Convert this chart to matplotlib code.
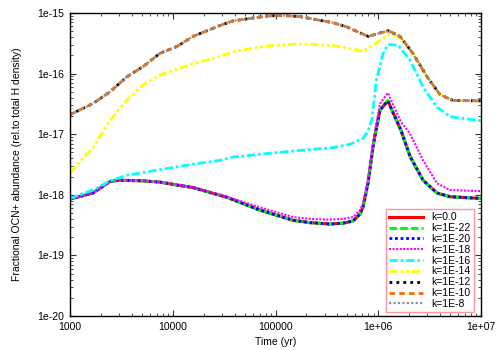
import matplotlib
matplotlib.use('Agg')
import matplotlib.pyplot as plt
from matplotlib.ticker import LogLocator, FixedLocator, NullFormatter

plt.rcParams['font.family'] = ['Liberation Sans', 'DejaVu Sans']

# time grids (yr)
t_low = [1000, 1670, 2450, 3070, 5130, 7510, 11000, 15700, 33700, 70600,
         148000, 217000, 339000, 454000, 568000, 664000, 710000, 795000, 889000, 951000,
         1.04e6, 1.24e6, 1.66e6, 2.04e6, 2.73e6, 3.73e6, 4.99e6, 1e7]
t_cyan = [1000, 1670, 2450, 3590, 7510, 15700, 28800, 38600, 82700, 173000,
          363000, 531000, 664000, 710000, 795000, 870000, 960000, 1.11e6, 1.24e6, 1.56e6,
          2.04e6, 2.73e6, 3.73e6, 4.99e6, 1e7]
t_yel = [1000, 1690, 2450, 3560, 5130, 7510, 15700, 28800, 38600, 82700,
         173000, 363000, 664000, 710000, 832000, 1.30e6, 1.63e6, 2.18e6, 2.98e6, 3.99e6,
         5.34e6, 1e7]
t_top = [1000, 1670, 2450, 3590, 5130, 7510, 11000, 15700, 28800, 38600,
         82700, 118000, 173000, 363000, 493000, 664000, 800000, 1.25e6, 1.63e6, 2.18e6,
         2.98e6, 3.99e6, 5.34e6, 1e7]

# fractional abundances
ab_k0 = [8.5e-19, 1.07e-18, 1.66e-18, 1.74e-18, 1.70e-18, 1.62e-18, 1.45e-18, 1.32e-18, 9.1e-19, 5.6e-19,
         3.8e-19, 3.47e-19, 3.3e-19, 3.4e-19, 3.7e-19, 4.8e-19, 6.3e-19, 1.55e-18, 6.2e-18, 1.17e-17,
         2.5e-17, 3.55e-17, 1.17e-17, 4.3e-18, 1.74e-18, 1.07e-18, 9.3e-19, 8.7e-19]
ab_k22 = list(ab_k0)
ab_k20 = list(ab_k0)
ab_k18 = [8.5e-19, 1.07e-18, 1.66e-18, 1.74e-18, 1.70e-18, 1.62e-18, 1.45e-18, 1.33e-18, 9.3e-19, 6.2e-19,
          4.3e-19, 4.0e-19, 3.9e-19, 4.0e-19, 4.3e-19, 5.6e-19, 7.1e-19, 1.78e-18, 7.1e-18, 1.4e-17,
          3.2e-17, 4.8e-17, 1.6e-17, 1.02e-17, 3.7e-18, 1.55e-18, 1.2e-18, 1.15e-18]
ab_k16 = [8.7e-19, 1.2e-18, 1.7e-18, 2.1e-18, 2.6e-18, 3.2e-18, 3.7e-18, 4.2e-18, 4.8e-18, 5.4e-18,
          6.0e-18, 6.8e-18, 8.1e-18, 8.5e-18, 1.12e-17, 1.78e-17, 7.9e-17, 2.1e-16, 3.0e-16, 2.95e-16,
          1.66e-16, 6.0e-17, 2.8e-17, 1.95e-17, 1.66e-17]
ab_k14 = [2.3e-18, 6.2e-18, 1.7e-17, 3.6e-17, 6.5e-17, 9.5e-17, 1.45e-16, 1.9e-16, 2.3e-16, 2.85e-16,
          3.1e-16, 2.9e-16, 2.4e-16, 2.3e-16, 2.75e-16, 4.5e-16, 4.0e-16, 2.1e-16, 8.8e-17, 4.5e-17,
          3.6e-17, 3.55e-17]
ab_k12 = [2.1e-17, 3.2e-17, 5.0e-17, 8.9e-17, 1.3e-16, 2.16e-16, 2.8e-16, 4.1e-16, 6.2e-16, 7.4e-16,
          8.9e-16, 9.1e-16, 8.7e-16, 6.9e-16, 5.9e-16, 4.7e-16, 4.1e-16, 5.1e-16, 4.1e-16, 2.14e-16,
          8.9e-17, 4.5e-17, 3.6e-17, 3.55e-17]
ab_k10 = list(ab_k12)
ab_k8 = list(ab_k12)

fig = plt.figure(figsize=(5, 3.5), dpi=100)
ax = fig.add_axes([0.14, 0.097, 0.822, 0.866])

ax.plot(t_low, ab_k0, color='#ff0000', lw=2.2, ls='-', label='k=0.0')
ax.plot(t_low, ab_k22, color='#00ff00', lw=2.2, ls=(0, (2.5, 1)), label='k=1E-22')
ax.plot(t_low, ab_k20, color='#0000ff', lw=2.0, ls=(0, (1, 1)), label='k=1E-20')
ax.plot(t_low, ab_k18, color='#ff00ff', lw=1.5, ls=(0, (1, 0.7)), label='k=1E-18')
ax.plot(t_cyan, ab_k16, color='#00ffff', lw=2.0, ls=(0, (3, 1, 1, 1)), label='k=1E-16')
ax.plot(t_yel, ab_k14, color='#ffff00', lw=2.0, ls=(0, (3, 1, 1, 1, 1, 1)), label='k=1E-14')
ax.plot(t_top, ab_k12, color='#000000', lw=2.0, ls=(0, (1, 1.5)), label='k=1E-12')
ax.plot(t_top, ab_k10, color='#ff6a00', lw=2.0, ls=(0, (2, 1.5)), label='k=1E-10')
ax.plot(t_top, ab_k8, color='#909090', lw=1.6, ls=(0, (1, 1)), label='k=1E-8')

ax.set_xscale('log')
ax.set_yscale('log')
ax.set_xlim(1000, 1e7)
ax.set_ylim(1e-20, 1e-15)

ax.xaxis.set_major_locator(FixedLocator([1e3, 1e4, 1e5, 1e6, 1e7]))
ax.set_xticklabels(['1000', '10000', '100000', '1e+06', '1e+07'])
ax.xaxis.set_minor_locator(LogLocator(base=10, subs=range(2, 10)))
ax.xaxis.set_minor_formatter(NullFormatter())
ax.yaxis.set_major_locator(FixedLocator([1e-20, 1e-19, 1e-18, 1e-17, 1e-16, 1e-15]))
ax.set_yticklabels(['1e-20', '1e-19', '1e-18', '1e-17', '1e-16', '1e-15'])
ax.yaxis.set_minor_locator(LogLocator(base=10, subs=range(2, 10)))
ax.yaxis.set_minor_formatter(NullFormatter())

ax.tick_params(which='both', direction='in', top=True, right=True, labelsize=7.5, color='#333333')
ax.tick_params(which='major', length=4, width=0.8, pad=4)
ax.tick_params(which='minor', length=2, width=0.6)
for s in ax.spines.values():
    s.set_linewidth(1.0)

ax.set_xlabel('Time (yr)', fontsize=7.5, labelpad=4)
ax.set_ylabel('Fractional OCN+ abundance (rel.to total H density)', fontsize=7.5, labelpad=11)

leg = ax.legend(loc='lower right', bbox_to_anchor=(0.983, 0.013), fontsize=7.5,
                frameon=True, fancybox=False,
                handlelength=3.3, handletextpad=0.8, labelspacing=0.08,
                borderpad=0.3, borderaxespad=0.0)
leg.get_frame().set_edgecolor('#ff8080')
leg.get_frame().set_linewidth(1.0)

fig.savefig('out.png', dpi=100)
